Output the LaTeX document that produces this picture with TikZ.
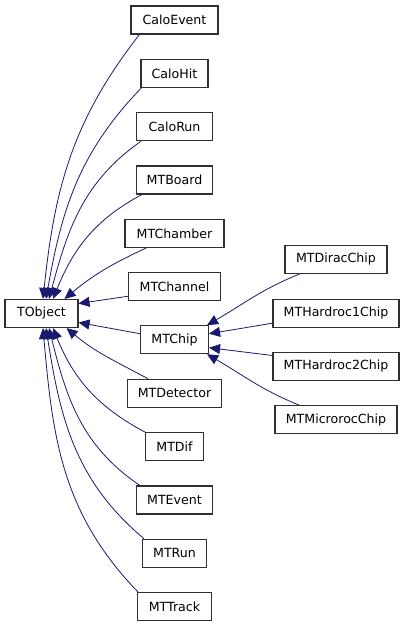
\documentclass[tikz,border=0pt]{standalone}
\usepackage{fontspec}
\setmainfont{DejaVu Sans}
\usetikzlibrary{arrows.meta}
\definecolor{DoxEdge}{HTML}{191970}
\definecolor{DoxBorder}{HTML}{303030}

\begin{document}
\begin{tikzpicture}[
    x=1pt, y=-1pt,
    font=\fontsize{12.6}{14}\selectfont,
    cls/.style={
        draw=DoxBorder,
        line width=1.1pt,
        fill=white,
        minimum height=28pt,
        inner sep=0pt
    },
    inh/.style={{Triangle[length=11pt,width=10pt]}-,
                draw=DoxEdge, line width=0.8pt}
]
    \useasboundingbox[fill=white] (0,0) rectangle (405,627);

    % base class
    \node[cls, minimum width=73pt] (TObject) at (41.5,313.5) {TObject};

    % derived classes, first column
    \foreach \name/\y/\w in {CaloEvent/20/87, CaloHit/73.3/67,
        CaloRun/126.7/76, MTBoard/180/76, MTChamber/233.3/99,
        MTChannel/286.7/92, MTChip/339.7/68, MTDetector/393.2/94,
        MTDif/446.6/58, MTEvent/500/76, MTRun/553.2/64, MTTrack/606.5/74} {
        \node[cls, minimum width=\w pt] (\name) at (174.5,\y) {\name};
    }

    % derived from MTChip
    \foreach \name/\y/\w in {MTDiracChip/259.5/102, MTHardroc1Chip/313.2/126,
        MTHardroc2Chip/366.5/126, MTMicrorocChip/419.8/122} {
        \node[cls, minimum width=\w pt] (\name) at (336,\y) {\name};
    }

    % edges into TObject (from above)
    \draw[inh] ([xshift=1.5pt]TObject.north) to[out=84,in=232]
        ([xshift=9pt]CaloEvent.south west);
    \draw[inh] ([xshift=4.5pt]TObject.north) to[out=80,in=226]
        ([xshift=1pt]CaloHit.south west);
    \draw[inh] ([xshift=7.5pt]TObject.north) to[out=75,in=215]
        ([xshift=5pt]CaloRun.south west);
    \draw[inh] ([xshift=11.5pt]TObject.north) to[out=68,in=208]
        ([xshift=6pt]MTBoard.south west);
    \draw[inh] ([xshift=-14pt]TObject.north east) to[out=40,in=205]
        ([xshift=22pt]MTChamber.south west);
    \draw[inh] ([yshift=10pt]TObject.east) --
        ([yshift=5pt]MTChannel.south west);

    % edges into TObject (level and below)
    \draw[inh] ([yshift=-9pt]TObject.east) --
        ([yshift=6pt]MTChip.west);
    \draw[inh] ([xshift=-12pt]TObject.south east) to[out=-40,in=152]
        ([xshift=21pt]MTDetector.north west);
    \draw[inh] ([xshift=11.5pt]TObject.south) to[out=-68,in=152]
        (MTDif.north west);
    \draw[inh] ([xshift=7.5pt]TObject.south) to[out=-76,in=146]
        ([xshift=4pt]MTEvent.north west);
    \draw[inh] ([xshift=4.5pt]TObject.south) to[out=-81,in=140]
        ([xshift=2pt]MTRun.north west);
    \draw[inh] ([xshift=1.5pt]TObject.south) to[out=-85,in=134]
        ([xshift=1pt]MTTrack.north west);

    % edges into MTChip
    \draw[inh] ([xshift=-2pt]MTChip.north east) to[out=30,in=202]
        ([xshift=15pt]MTDiracChip.south west);
    \draw[inh] ([yshift=6pt]MTChip.east) --
        ([yshift=-10pt]MTHardroc1Chip.west);
    \draw[inh] ([yshift=-8pt]MTChip.east) --
        ([yshift=11pt]MTHardroc2Chip.west);
    \draw[inh] ([xshift=-2pt]MTChip.south east) to[out=-30,in=158]
        ([xshift=25pt]MTMicrorocChip.north west);
\end{tikzpicture}
\end{document}
